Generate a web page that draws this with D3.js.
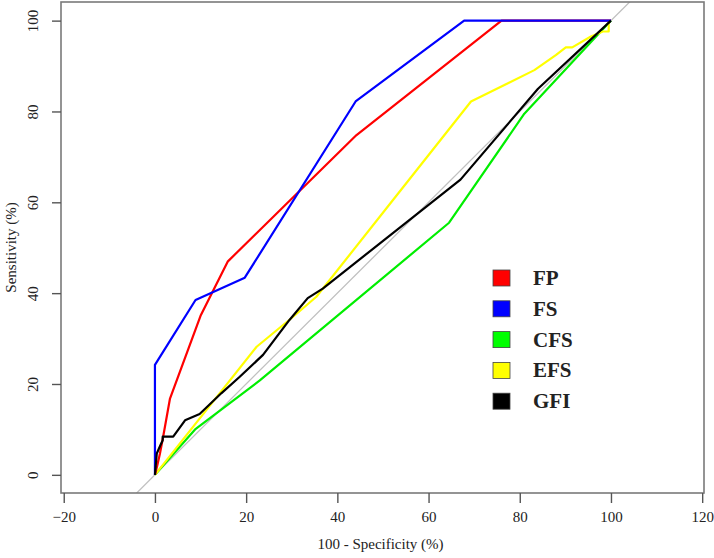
<!DOCTYPE html>
<html>
<head>
<meta charset="utf-8">
<script src="https://cdn.jsdelivr.net/npm/d3@7"></script>
<style>
  body { margin: 0; background: #fff; }
  text { font-family: 'Liberation Serif', 'Times New Roman', serif; fill: #222; }
</style>
</head>
<body>
<svg id="chart" width="714" height="558"></svg>
<script>
// ROC curves, values (100 - specificity, sensitivity)
const seriesNames = ['FP', 'FS', 'CFS', 'EFS', 'GFI']
const seriesColors = ['#ff0000', '#0000ff', '#00ee00', '#ffff00', '#000000']

const fp = [[0, 0], [0.5, 2], [1.1, 4.7], [1.8, 8.4], [3.3, 16.8], [10, 35], [16, 47], [44.2, 74.8], [76, 100], [100, 100]]
const fs = [[0, 0], [0, 24.2], [8.9, 38.5], [19.7, 43.4], [44, 82.2], [67.8, 100], [100, 100]]
const cfs = [[0, 0], [8.8, 10], [23, 20.8], [64.5, 55.5], [81, 79.5], [100, 100]]
const efs = [[0, 0], [22.3, 28.2], [30.3, 34.8], [35.4, 39.2], [52.2, 60.5], [69.3, 82.2], [83.2, 89.1], [87.9, 92.4], [90.1, 94.1], [91.5, 94.1], [95.6, 96.5], [98.2, 97.6], [99.5, 97.6], [99.5, 100]]
const gfi = [[0, 0], [0.4, 4.7], [1.1, 6.3], [1.7, 7.6], [1.7, 8.4], [4, 8.4], [6.6, 12], [9.8, 13.4], [14.6, 18], [18.6, 21.6], [23.7, 26.4], [29.5, 34.1], [33.5, 38.9], [36.8, 41], [67, 65], [84, 85], [100, 100]]
const seriesData = [fp, fs, cfs, efs, gfi]

const xTicks = [-20, 0, 20, 40, 60, 80, 100, 120]
const yTicks = [0, 20, 40, 60, 80, 100]

const plotLeft = 61
const plotRight = 704
const plotTop = 2
const plotBottom = 493

const svg = d3.select('#chart')

const x = d3.scaleLinear().domain([-20.6, 120.4]).range([plotLeft, plotRight])
const y = d3.scaleLinear().domain([-4, 104.1]).range([plotBottom, plotTop])

svg.append('defs')
  .append('clipPath')
  .attr('id', 'clip')
  .append('rect')
  .attr('x', plotLeft)
  .attr('y', plotTop)
  .attr('width', plotRight - plotLeft)
  .attr('height', plotBottom - plotTop)

// reference diagonal
svg.append('line')
  .attr('clip-path', 'url(#clip)')
  .attr('x1', x(-10)).attr('y1', y(-10))
  .attr('x2', x(110)).attr('y2', y(110))
  .attr('stroke', '#c0c0c0')
  .attr('stroke-width', 1.3)

const line = d3.line()
  .x((d) => x(d[0]))
  .y((d) => y(d[1]))

// draw in the order they appear stacked in the picture
const drawOrder = [2, 3, 0, 1, 4]
drawOrder.forEach((i) => {
  svg.append('path')
    .datum(seriesData[i])
    .attr('fill', 'none')
    .attr('stroke', seriesColors[i])
    .attr('stroke-width', 2.2)
    .attr('stroke-linejoin', 'round')
    .attr('d', line)
})

// box
svg.append('rect')
  .attr('x', plotLeft)
  .attr('y', plotTop)
  .attr('width', plotRight - plotLeft)
  .attr('height', plotBottom - plotTop)
  .attr('fill', 'none')
  .attr('stroke', '#7a7a7a')
  .attr('stroke-width', 1.6)

const xAxis = svg.append('g')
  .attr('transform', `translate(0 ${plotBottom})`)
  .call(d3.axisBottom(x).tickValues(xTicks).tickSize(10).tickPadding(8).tickSizeOuter(0))
xAxis.select('.domain').remove()
xAxis.selectAll('line').attr('stroke', '#555').attr('stroke-width', 1.4)
xAxis.selectAll('text')
  .attr('font-size', 15)
  .attr('fill', '#222')
  .style('font-family', "'Liberation Serif', serif")

const yAxis = svg.append('g')
  .attr('transform', `translate(${plotLeft} 0)`)
  .call(d3.axisLeft(y).tickValues(yTicks).tickSize(9).tickSizeOuter(0))
yAxis.select('.domain').remove()
yAxis.selectAll('line').attr('stroke', '#555').attr('stroke-width', 1.4)
yAxis.selectAll('text')
  .attr('x', null)
  .attr('dy', null)
  .attr('text-anchor', 'middle')
  .attr('transform', 'translate(-23 0) rotate(-90)')
  .attr('font-size', 15)
  .attr('fill', '#222')
  .style('font-family', "'Liberation Serif', serif")

svg.append('text')
  .attr('x', (plotLeft + plotRight) / 2 - 2)
  .attr('y', 549)
  .attr('text-anchor', 'middle')
  .attr('font-size', 15)
  .text('100 - Specificity (%)')

svg.append('text')
  .attr('transform', `translate(16 ${(plotTop + plotBottom) / 2}) rotate(-90)`)
  .attr('text-anchor', 'middle')
  .attr('font-size', 15)
  .text('Sensitivity (%)')

// legend
const legend = svg.append('g').attr('transform', 'translate(493 278)')
seriesNames.forEach((name, i) => {
  const row = legend.append('g').attr('transform', `translate(0 ${i * 30.8})`)
  row.append('rect')
    .attr('x', 0)
    .attr('y', -8)
    .attr('width', 17)
    .attr('height', 16)
    .attr('fill', seriesColors[i] === '#00ee00' ? '#00ff00' : seriesColors[i])
    .attr('stroke', '#444')
    .attr('stroke-width', 0.8)
  row.append('text')
    .attr('x', 40)
    .attr('y', 7)
    .attr('font-size', 21)
    .attr('font-weight', 'bold')
    .attr('fill', '#111')
    .text(name)
})
</script>
</body>
</html>
